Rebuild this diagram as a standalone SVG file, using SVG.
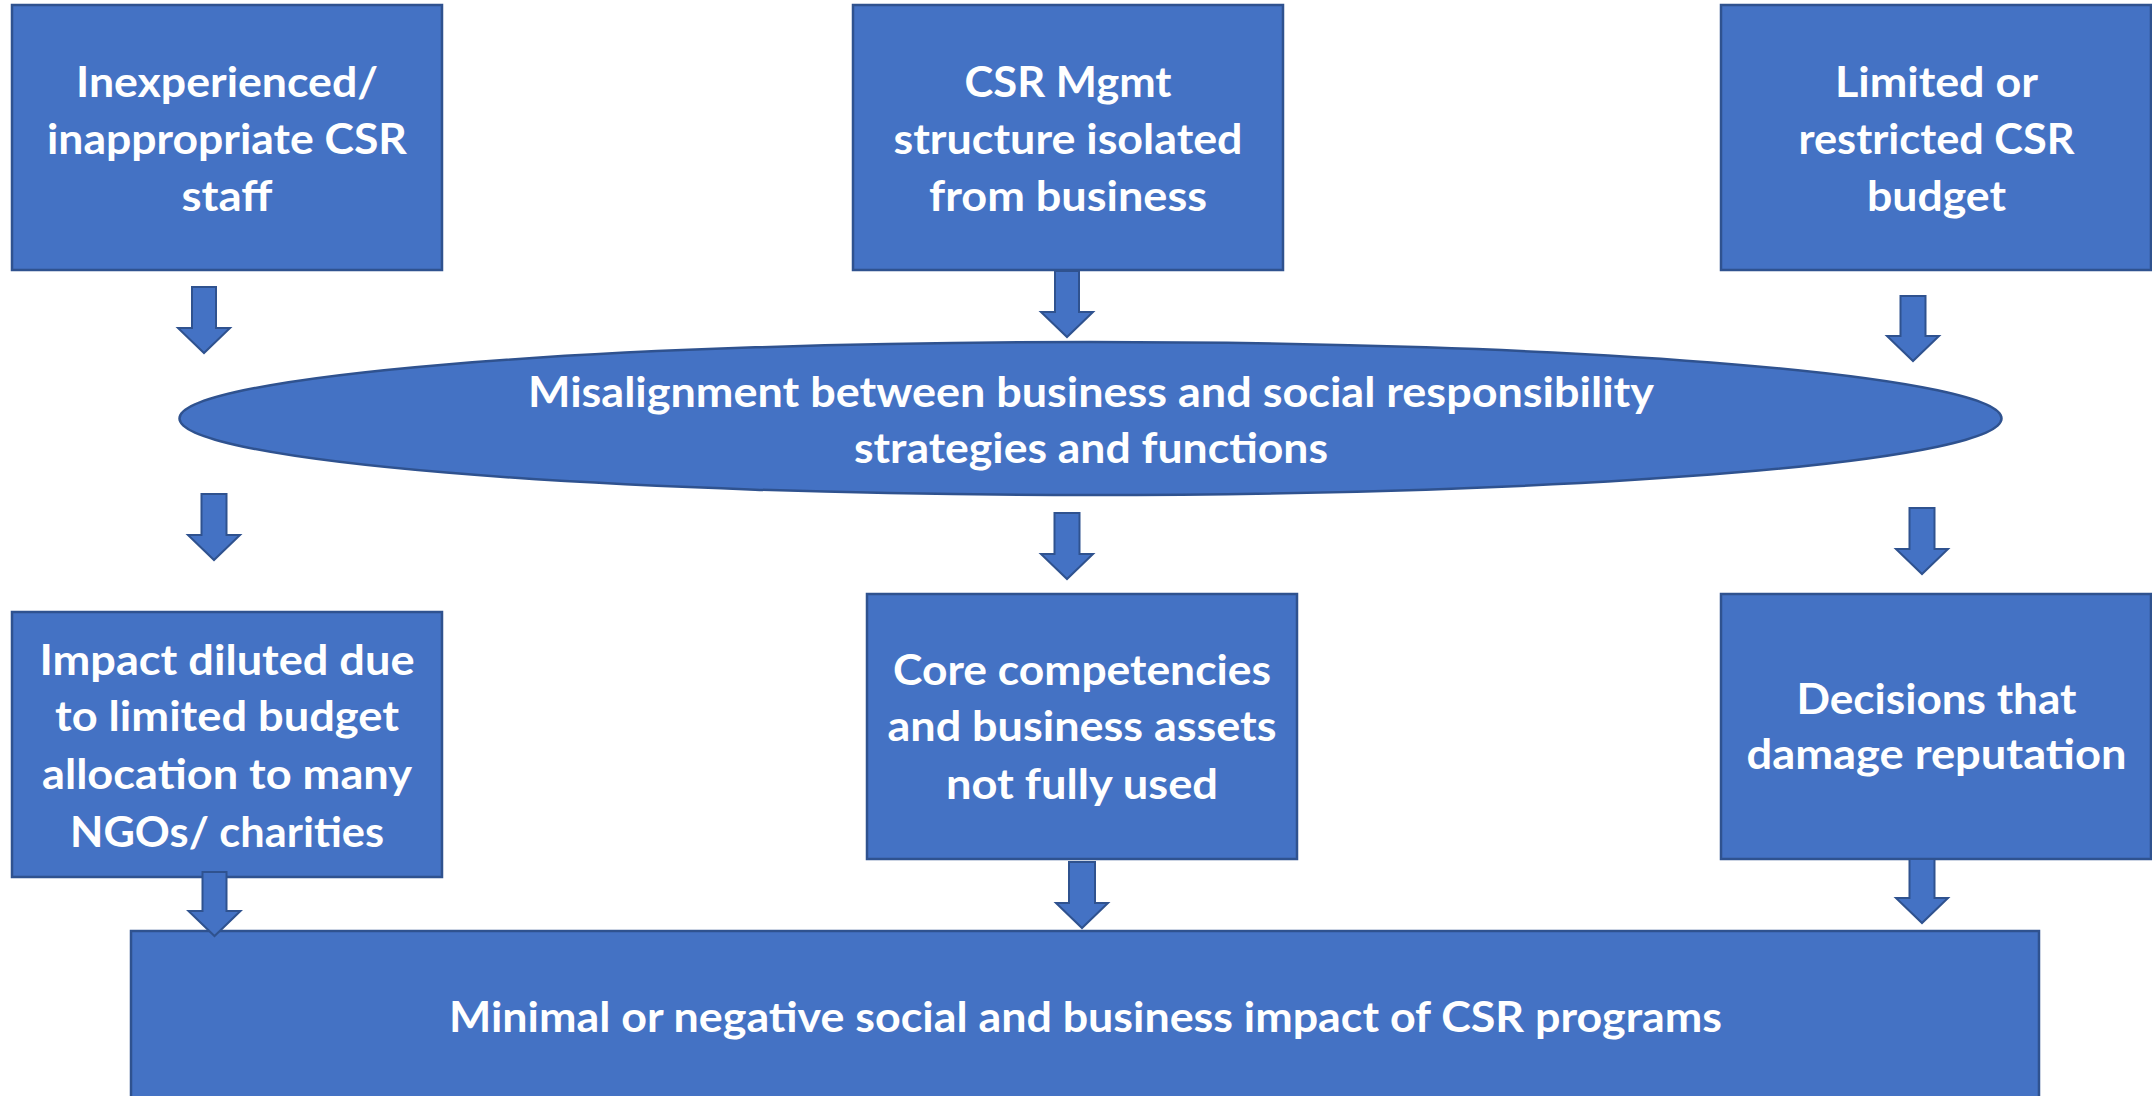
<svg xmlns="http://www.w3.org/2000/svg" width="2152" height="1096" viewBox="0 0 2152 1096">
<style>
.n{fill:#4472C4;stroke:#2F528F;stroke-width:2.5}
.t{fill:#FFFFFF;font-family:Lato,"Open Sans","Liberation Sans",sans-serif;font-weight:700;font-size:42px;text-anchor:middle}
.a{fill:#4472C4;stroke:#2F528F;stroke-width:2;stroke-linejoin:miter}
</style>
<rect width="2152" height="1096" fill="#FFFFFF"/>
<g id="node-staff">
<rect class="n" x="12" y="5" width="430" height="265"/>
<text class="t" x="227" y="97" textLength="302" lengthAdjust="spacingAndGlyphs">Inexperienced/</text>
<text class="t" x="227" y="154" textLength="360" lengthAdjust="spacingAndGlyphs">inappropriate CSR</text>
<text class="t" x="227" y="211" textLength="91" lengthAdjust="spacingAndGlyphs">staff</text>
</g>
<g id="node-mgmt">
<rect class="n" x="853" y="5" width="430" height="265"/>
<text class="t" x="1068" y="97" textLength="207" lengthAdjust="spacingAndGlyphs">CSR Mgmt</text>
<text class="t" x="1068" y="154" textLength="349" lengthAdjust="spacingAndGlyphs">structure isolated</text>
<text class="t" x="1068" y="211" textLength="278" lengthAdjust="spacingAndGlyphs">from business</text>
</g>
<g id="node-budget">
<rect class="n" x="1721" y="5" width="430" height="265"/>
<text class="t" x="1936.5" y="97" textLength="203" lengthAdjust="spacingAndGlyphs">Limited or</text>
<text class="t" x="1936.5" y="154" textLength="276" lengthAdjust="spacingAndGlyphs">restricted CSR</text>
<text class="t" x="1936.5" y="211" textLength="139" lengthAdjust="spacingAndGlyphs">budget</text>
</g>
<g id="node-misalignment">
<ellipse class="n" cx="1090.5" cy="418.5" rx="911" ry="76.5"/>
<text class="t" x="1091" y="407" textLength="1126" lengthAdjust="spacingAndGlyphs">Misalignment between business and social responsibility</text>
<text class="t" x="1091" y="463" textLength="474" lengthAdjust="spacingAndGlyphs">strategies and functions</text>
</g>
<g id="node-diluted">
<rect class="n" x="12" y="612" width="430" height="265"/>
<text class="t" x="227" y="675" textLength="375" lengthAdjust="spacingAndGlyphs">Impact diluted due</text>
<text class="t" x="227" y="731" textLength="344" lengthAdjust="spacingAndGlyphs">to limited budget</text>
<text class="t" x="227" y="789" textLength="370" lengthAdjust="spacingAndGlyphs">allocation to many</text>
<text class="t" x="227" y="847" textLength="314" lengthAdjust="spacingAndGlyphs">NGOs/ charities</text>
</g>
<g id="node-competencies">
<rect class="n" x="867" y="594" width="430" height="265"/>
<text class="t" x="1082" y="685" textLength="378" lengthAdjust="spacingAndGlyphs">Core competencies</text>
<text class="t" x="1082" y="741" textLength="389" lengthAdjust="spacingAndGlyphs">and business assets</text>
<text class="t" x="1082" y="799" textLength="272" lengthAdjust="spacingAndGlyphs">not fully used</text>
</g>
<g id="node-reputation">
<rect class="n" x="1721" y="594" width="430" height="265"/>
<text class="t" x="1936.5" y="714" textLength="280" lengthAdjust="spacingAndGlyphs">Decisions that</text>
<text class="t" x="1936.5" y="769" textLength="380" lengthAdjust="spacingAndGlyphs">damage reputation</text>
</g>
<g id="node-impact">
<rect class="n" x="131" y="931" width="1908" height="200"/>
<text class="t" x="1085.5" y="1032" textLength="1273" lengthAdjust="spacingAndGlyphs">Minimal or negative social and business impact of CSR programs</text>
</g>
<g id="connectors">
<path class="a" d="M192,287 H216 V328 H230 L204,353 L178,328 H192 Z"/>
<path class="a" d="M1055,271 H1079 V312 H1093 L1067,337 L1041,312 H1055 Z"/>
<path class="a" d="M1900.5,296 H1925.5 V336 H1939 L1913,361 L1887,336 H1900.5 Z"/>
<path class="a" d="M201.5,494 H226.5 V535 H240 L214,560 L188,535 H201.5 Z"/>
<path class="a" d="M1054.5,513 H1079.5 V554 H1093 L1067,579 L1041,554 H1054.5 Z"/>
<path class="a" d="M1909.5,508 H1934.5 V549 H1948 L1922,574 L1896,549 H1909.5 Z"/>
<path class="a" d="M202.5,872 H226.5 V911 H240.5 L214.5,936 L188.5,911 H202.5 Z"/>
<path class="a" d="M1069,862 H1095 V903 H1108 L1082,928 L1056,903 H1069 Z"/>
<path class="a" d="M1909.5,859 H1934.5 V898 H1948 L1922,923 L1896,898 H1909.5 Z"/>
</g>
</svg>
